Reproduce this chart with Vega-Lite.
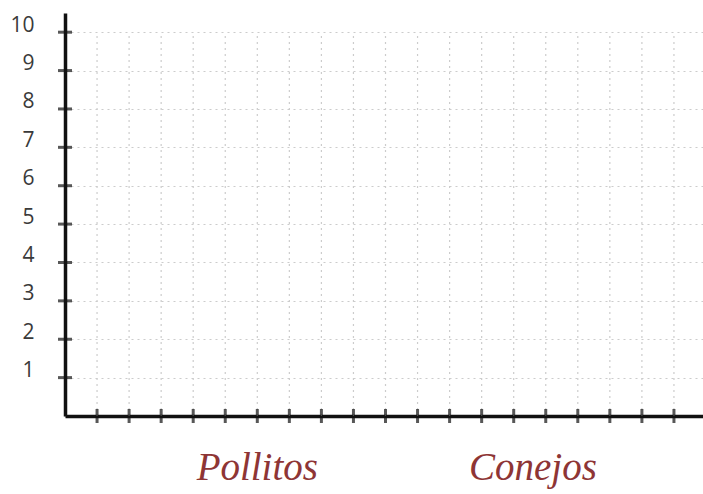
{
  "$schema": "https://vega.github.io/schema/vega-lite/v6.json",
  "width": 641,
  "height": 403,
  "autosize": {"type": "none"},
  "padding": {"left": 65, "top": 13, "right": 0, "bottom": 78},
  "background": "white",
  "config": {"view": {"stroke": null}},
  "datasets": {
    "yticks": [{"v": 1}, {"v": 2}, {"v": 3}, {"v": 4}, {"v": 5}, {"v": 6}, {"v": 7}, {"v": 8}, {"v": 9}, {"v": 10}],
    "xticks": [{"v": 1}, {"v": 2}, {"v": 3}, {"v": 4}, {"v": 5}, {"v": 6}, {"v": 7}, {"v": 8}, {"v": 9}, {"v": 10}, {"v": 11}, {"v": 12}, {"v": 13}, {"v": 14}, {"v": 15}, {"v": 16}, {"v": 17}, {"v": 18}, {"v": 19}],
    "xgrid": [{"v": 1}, {"v": 2}, {"v": 3}, {"v": 4}, {"v": 5}, {"v": 6}, {"v": 7}, {"v": 8}, {"v": 9}, {"v": 10}, {"v": 11}, {"v": 12}, {"v": 13}, {"v": 14}, {"v": 15}, {"v": 16}, {"v": 17}, {"v": 18}, {"v": 19}, {"v": 20}],
    "labels": [{"label": "Pollitos", "pos": 6}, {"label": "Conejos", "pos": 14.6}]
  },
  "layer": [
    {
      "data": {"name": "xgrid"},
      "mark": {"type": "rule", "color": "#cccccc", "strokeDash": [2, 4], "strokeWidth": 1.2},
      "encoding": {
        "x": {
          "field": "v", "type": "quantitative",
          "scale": {"domain": [0, 20], "nice": false, "zero": false},
          "axis": {
            "title": null,
            "values": [0],
            "ticks": false,
            "labels": false,
            "domainColor": "#111111",
            "domainWidth": 3.5,
            "grid": false
          }
        },
        "y": {
          "datum": 0, "type": "quantitative",
          "scale": {"domain": [0, 10.5], "nice": false, "zero": false},
          "axis": {
            "title": null,
            "values": [1, 2, 3, 4, 5, 6, 7, 8, 9, 10],
            "ticks": false,
            "labelPadding": 31,
            "labelOffset": -7,
            "labelFont": "Open Sans",
            "labelFontSize": 21,
            "labelColor": "#3a3a3a",
            "domainColor": "#111111",
            "domainWidth": 3.5,
            "grid": true,
            "gridColor": "#cccccc",
            "gridDash": [2, 4],
            "gridWidth": 1.2
          }
        },
        "y2": {"datum": 10}
      }
    },
    {
      "data": {"name": "yticks"},
      "mark": {"type": "tick", "orient": "horizontal", "size": 14, "thickness": 3, "color": "#111111"},
      "encoding": {
        "y": {"field": "v", "type": "quantitative"},
        "x": {"datum": 0, "type": "quantitative"}
      }
    },
    {
      "data": {"name": "xticks"},
      "mark": {"type": "tick", "orient": "vertical", "size": 14, "thickness": 3, "color": "#111111"},
      "encoding": {
        "x": {"field": "v", "type": "quantitative"},
        "y": {"datum": 0, "type": "quantitative"}
      }
    },
    {
      "data": {"name": "labels"},
      "mark": {"type": "text", "dy": 52, "font": "Liberation Serif", "fontStyle": "italic", "fontSize": 39, "color": "#8e3535", "align": "center", "baseline": "middle"},
      "encoding": {
        "x": {"field": "pos", "type": "quantitative"},
        "y": {"datum": 0, "type": "quantitative"},
        "text": {"field": "label"}
      }
    }
  ]
}
